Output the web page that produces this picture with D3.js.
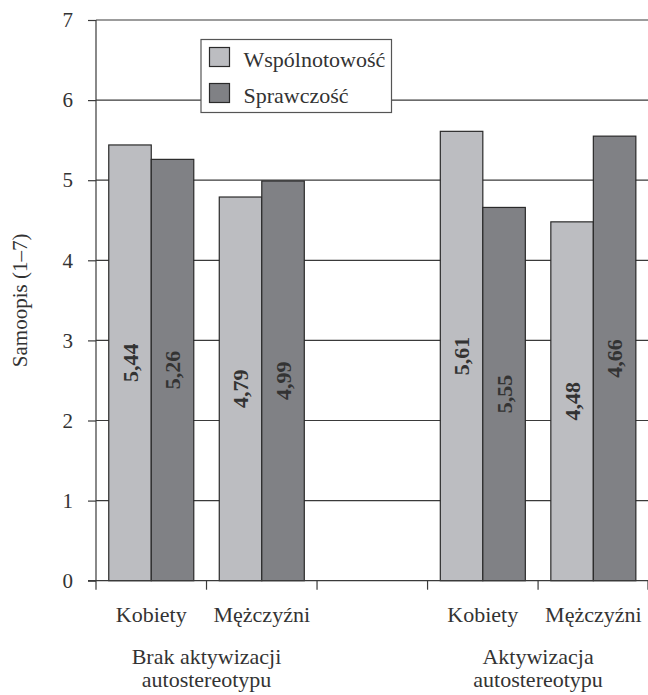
<!DOCTYPE html>
<html>
<head>
<meta charset="utf-8">
<script src="https://cdn.jsdelivr.net/npm/d3@7"></script>
<style>
  html, body { margin: 0; padding: 0; background: #fff; }
  svg, svg text { font-family: 'Liberation Serif', 'Times New Roman', Times, serif; }
</style>
</head>
<body>
<svg id="chart" width="648" height="695"></svg>
<script>
// data
var groups = ['Brak aktywizacji|autostereotypu', 'Aktywizacja|autostereotypu'];
var subgroups = ['Kobiety', 'Mężczyźni'];
var series = ['Wspólnotowość', 'Sprawczość'];
var wspolnotowosc = [5.44, 4.79, 5.61, 4.48];
var sprawczosc = [5.26, 4.99, 4.66, 5.55];
// printed labels (as in the original figure)
var wspolnotowoscLabels = ['5,44', '4,79', '5,61', '4,48'];
var sprawczoscLabels = ['5,26', '4,99', '5,55', '4,66'];
var yTicks = [0, 1, 2, 3, 4, 5, 6, 7];

(function() {
  'use strict';
  var LEFT = 96, RIGHT = 648.6, TOP = 20, BOTTOM = 580.7;
  var COLORS = ['#bcbdc1', '#808185'];
  var INK = '#333';
  var FONT = "'Liberation Serif', 'Times New Roman', Times, serif";

  var svg = d3.select('#chart').attr('font-family', FONT);

  // slots: Brak-K, Brak-M, gap, Akt-K, Akt-M
  var slots = ['0-0', '0-1', 'gap', '1-0', '1-1'];
  var rows = [];
  groups.forEach(function(g, gi) {
    subgroups.forEach(function(s, si) {
      var i = gi * subgroups.length + si;
      rows.push({
        slot: gi + '-' + si,
        name: s,
        values: [wspolnotowosc[i], sprawczosc[i]],
        labels: [wspolnotowoscLabels[i], sprawczoscLabels[i]]
      });
    });
  });

  var x = d3.scaleBand().domain(slots).range([LEFT, RIGHT]).padding(0);
  var xInner = d3.scaleBand().domain(d3.range(series.length))
    .range([0, x.bandwidth()]).paddingInner(0).paddingOuter(0.3);
  var y = d3.scaleLinear().domain([0, 7]).range([BOTTOM, TOP]);

  // gridlines
  svg.append('g').attr('class', 'grid')
    .selectAll('line')
    .data(yTicks.filter(function(d) { return d > 0; }))
    .enter().append('line')
    .attr('x1', LEFT).attr('x2', RIGHT)
    .attr('y1', function(d) { return y(d); })
    .attr('y2', function(d) { return y(d); })
    .attr('stroke', '#3a3a3a').attr('stroke-width', 1.2);

  // bars
  var bar = svg.append('g').selectAll('g')
    .data(rows).enter().append('g')
    .attr('transform', function(d) { return 'translate(' + x(d.slot) + ',0)'; });

  bar.selectAll('rect')
    .data(function(d) { return d.values; })
    .enter().append('rect')
    .attr('x', function(d, i) { return xInner(i); })
    .attr('y', function(d) { return y(d); })
    .attr('width', xInner.bandwidth())
    .attr('height', function(d) { return BOTTOM - y(d); })
    .attr('fill', function(d, i) { return COLORS[i]; })
    .attr('stroke', '#2a2a2a').attr('stroke-width', 1.2);

  bar.selectAll('text')
    .data(function(d) { return d.values.map(function(v, i) { return { v: v, t: d.labels[i], i: i }; }); })
    .enter().append('text')
    .attr('transform', function(d) {
      var cx = xInner(d.i) + xInner.bandwidth() / 2;
      var cy = (y(d.v) + BOTTOM) / 2;
      return 'translate(' + cx + ',' + cy + ') rotate(-90)';
    })
    .attr('text-anchor', 'middle')
    .attr('dy', '0.35em')
    .attr('font-size', 22).attr('font-weight', 'bold')
    .attr('fill', INK)
    .text(function(d) { return d.t; });

  // y axis
  var yAxis = svg.append('g')
    .attr('transform', 'translate(' + LEFT + ',0)')
    .call(d3.axisLeft(y).tickValues(yTicks).tickSize(8).tickPadding(15).tickFormat(d3.format('d')))
    .attr('font-family', FONT);
  yAxis.select('.domain').attr('d', 'M0,' + TOP + 'V' + (BOTTOM + 9));
  yAxis.selectAll('line, path').attr('stroke', '#3a3a3a').attr('stroke-width', 1.2);
  yAxis.selectAll('text').attr('font-size', 21).attr('fill', INK);

  // x axis line and boundary ticks
  var xAxis = svg.append('g');
  xAxis.append('line')
    .attr('x1', LEFT - 8).attr('x2', RIGHT)
    .attr('y1', BOTTOM).attr('y2', BOTTOM)
    .attr('stroke', '#3a3a3a').attr('stroke-width', 1.2);
  xAxis.selectAll('.xtick')
    .data(slots.slice(1).concat(['end']))
    .enter().append('line')
    .attr('class', 'xtick')
    .attr('x1', function(d) { return d === 'end' ? RIGHT - 0.6 : x(d); })
    .attr('x2', function(d) { return d === 'end' ? RIGHT - 0.6 : x(d); })
    .attr('y1', BOTTOM).attr('y2', BOTTOM + 9)
    .attr('stroke', '#3a3a3a').attr('stroke-width', 1.2);

  // category labels
  svg.append('g').selectAll('text')
    .data(rows).enter().append('text')
    .attr('x', function(d) { return x(d.slot) + x.bandwidth() / 2; })
    .attr('y', 622)
    .attr('text-anchor', 'middle')
    .attr('font-size', 22).attr('fill', INK)
    .text(function(d) { return d.name; });

  // group labels, one text per line
  groups.forEach(function(g, gi) {
    var cx = (x(gi + '-0') + x(gi + '-1') + x.bandwidth()) / 2;
    g.split('|').forEach(function(line, li) {
      svg.append('text')
        .attr('x', cx)
        .attr('y', 664 + li * 23)
        .attr('text-anchor', 'middle')
        .attr('font-size', 22).attr('fill', INK)
        .text(line);
    });
  });

  // y title
  svg.append('text')
    .attr('transform', 'translate(27,' + ((TOP + BOTTOM) / 2) + ') rotate(-90)')
    .attr('text-anchor', 'middle')
    .attr('font-size', 21).attr('fill', INK)
    .text('Samoopis (1–7)');

  // legend
  var legend = svg.append('g').attr('transform', 'translate(201,39.5)');
  legend.append('rect')
    .attr('width', 190.5).attr('height', 73)
    .attr('fill', '#fff').attr('stroke', '#555').attr('stroke-width', 1.2);
  var item = legend.selectAll('.item')
    .data(series).enter().append('g')
    .attr('class', 'item')
    .attr('transform', function(d, i) { return 'translate(8.5,' + (8 + i * 36) + ')'; });
  item.append('rect')
    .attr('width', 20).attr('height', 19)
    .attr('fill', function(d, i) { return COLORS[i]; })
    .attr('stroke', '#2a2a2a').attr('stroke-width', 1.2);
  item.append('text')
    .attr('x', 34).attr('y', 19)
    .attr('font-size', 22).attr('fill', INK)
    .text(function(d) { return d; });
})();
</script>
</body>
</html>
